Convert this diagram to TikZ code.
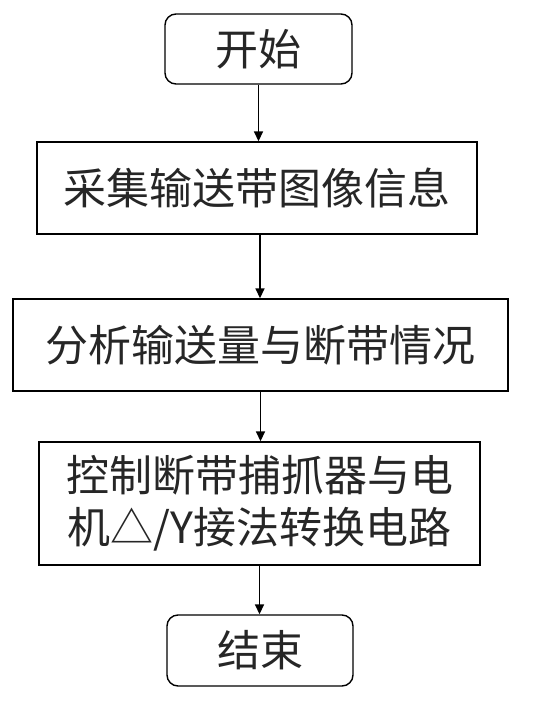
\documentclass[tikz,border=0pt]{standalone}
\usepackage{fontspec}
\newfontfamily\cjk{Noto Sans CJK SC}
\usetikzlibrary{arrows.meta}
\begin{document}
\begin{tikzpicture}[x=1pt,y=-1pt,
  box/.style={draw=black,line width=1.4pt,inner sep=0pt,align=center,
    font=\cjk\fontsize{43}{52}\selectfont,text=black!85},
  term/.style={box,rounded corners=11pt},
  arr/.style={draw=black,line width=1.6pt,-{Triangle[length=10pt,width=9pt]}}]
\useasboundingbox (0,0) rectangle (534,701);
\fill[white] (0,0) rectangle (534,701);
\node[term,minimum width=187pt,minimum height=70pt] (start) at (258.5,49) {开始};
\node[box,minimum width=440pt,minimum height=92pt] (b2) at (257,188) {采集输送带图像信息};
\node[box,minimum width=495pt,minimum height=92pt] (b3) at (260.5,345) {分析输送量与断带情况};
\node[box,minimum width=441pt,minimum height=123pt] (b4) at (259.5,503.5) {控制断带捕抓器与电\\机△/Y接法转换电路};
\node[term,minimum width=186pt,minimum height=71pt] (end) at (260,650.5) {结束};
\draw[arr] (start.south) -- (start.south |- b2.north);
\draw[arr] (b2.south) ++(3,0) coordinate (c2) -- (c2 |- b3.north);
\draw[arr] (b3.south) -- (b3.south |- b4.north);
\draw[arr] (b4.south) -- (b4.south |- end.north);
\end{tikzpicture}
\end{document}
